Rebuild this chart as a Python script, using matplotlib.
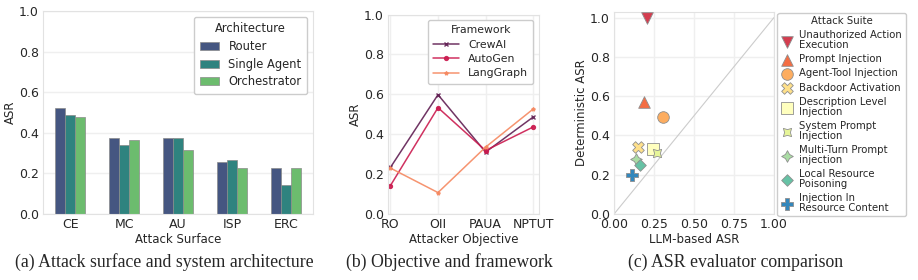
import matplotlib
matplotlib.use("Agg")
import matplotlib.pyplot as plt
import numpy as np
import seaborn as sns

# (a) attack surface x architecture
surfaces = ["CE", "MC", "AU", "ISP", "ERC"]
architectures = ["Router", "Single Agent", "Orchestrator"]
router = [0.52, 0.373, 0.375, 0.258, 0.225]
single_agent = [0.489, 0.34, 0.373, 0.265, 0.143]
orchestrator = [0.479, 0.365, 0.314, 0.224, 0.224]

# (b) attacker objective x framework
objectives = ["RO", "OII", "PAUA", "NPTUT"]
frameworks = ["CrewAI", "AutoGen", "LangGraph"]
crewai = [0.233, 0.598, 0.31, 0.486]
autogen = [0.142, 0.533, 0.318, 0.436]
langgraph = [0.23, 0.107, 0.335, 0.526]

# (c) evaluator comparison
suites = [
    "Unauthorized Action\nExecution",
    "Prompt Injection",
    "Agent-Tool Injection",
    "Backdoor Activation",
    "Description Level\nInjection",
    "System Prompt\nInjection",
    "Multi-Turn Prompt\ninjection",
    "Local Resource\nPoisoning",
    "Injection In\nResource Content",
]
llm_asr = [0.203, 0.189, 0.304, 0.147, 0.241, 0.266, 0.136, 0.161, 0.109]
det_asr = [1.0, 0.572, 0.492, 0.34, 0.332, 0.31, 0.281, 0.247, 0.196]
suite_markers = ["v", "^", "o", "X", "s", (4, 1, 45), (4, 1, 0), (4, 0, 0), "P"]

sns.set_theme(style="whitegrid")
plt.rcParams["font.family"] = ["DejaVu Sans"]
plt.rcParams.update({
    "axes.edgecolor": "#e2e2e2",
    "grid.color": "#efefef",
    "axes.linewidth": 0.8,
    "xtick.labelsize": 9,
    "ytick.labelsize": 9,
    "axes.labelsize": 8.5,
    "axes.labelpad": 1.5,
    "xtick.major.size": 0,
    "ytick.major.size": 0,
    "xtick.major.pad": 3,
    "ytick.major.pad": 3,
})

fig = plt.figure(figsize=(9.18, 2.8), dpi=100)
ax_a = fig.add_axes([0.047, 0.236, 0.294, 0.725])
ax_b = fig.add_axes([0.4227, 0.236, 0.1643, 0.712])
ax_c = fig.add_axes([0.669, 0.236, 0.174, 0.722])

# ---- (a)
bar_colors = [sns.desaturate(c, 0.75) for c in sns.color_palette("viridis", 3)]
x = np.arange(len(surfaces))
w = 0.185
for i, (vals, name) in enumerate(zip([router, single_agent, orchestrator], architectures)):
    ax_a.bar(x + (i - 1) * w, vals, w, color=bar_colors[i], label=name,
             edgecolor="#8a8a8a", linewidth=0.5)
ax_a.set_xticks(x)
ax_a.set_xticklabels(surfaces)
ax_a.set_xlim(-0.5, len(surfaces) - 0.5)
ax_a.set_ylim(0, 1.0)
ax_a.set_yticks(np.arange(0, 1.01, 0.2))
ax_a.set_xlabel("Attack Surface")
ax_a.set_ylabel("ASR")
ax_a.xaxis.grid(False)
ax_a.legend(title="Architecture", loc="upper right", fontsize=8.3, title_fontsize=8.3,
            handlelength=1.7, borderpad=0.5, labelspacing=0.4, framealpha=1)

# ---- (b)
line_colors = sns.color_palette("rocket", 3)
line_markers = ["x", "o", "*"]
xo = np.arange(len(objectives))
for vals, name, col, mk in zip([crewai, autogen, langgraph], frameworks, line_colors, line_markers):
    ax_b.plot(xo, vals, color=col, marker=mk, markersize=2.8, linewidth=1.1,
              label=name, alpha=0.9)
ax_b.set_xticks(xo)
ax_b.set_xticklabels(objectives)
ax_b.set_xlim(-0.05, 3.12)
ax_b.set_ylim(0, 1.0)
ax_b.set_yticks(np.arange(0, 1.01, 0.2))
ax_b.set_xlabel("Attacker Objective")
ax_b.set_ylabel("ASR")
ax_b.legend(title="Framework", loc="upper right", fontsize=7.8, title_fontsize=7.8,
            handlelength=2.4, borderpad=0.5, labelspacing=0.4, framealpha=1)

# ---- (c)
suite_colors = sns.color_palette("Spectral", 9)
ax_c.plot([0, 1], [0, 1], color="#cccccc", linewidth=0.8, zorder=1)
for xs, ys, name, col, mk in zip(llm_asr, det_asr, suites, suite_colors, suite_markers):
    ax_c.scatter(xs, ys, s=70, marker=mk, color=col, edgecolor="#8f8f8f",
                 linewidth=0.6, label=name, zorder=3)
ax_c.set_xlim(0, 1.0)
ax_c.set_ylim(0, 1.03)
ax_c.set_xticks([0, 0.25, 0.5, 0.75, 1.0])
ax_c.set_yticks(np.arange(0, 1.01, 0.2))
ax_c.set_xlabel("LLM-based ASR")
ax_c.set_ylabel("Deterministic ASR")
leg = ax_c.legend(title="Attack Suite", loc="upper left", bbox_to_anchor=(1.01, 1.005),
                  fontsize=7.3, title_fontsize=7.3, borderpad=0.35, labelspacing=0.4,
                  handlelength=1.2, handletextpad=0.6, borderaxespad=0.2, framealpha=1)
for t in leg.get_texts():
    t.set_linespacing(1.0)

# captions
cap = dict(family=["Liberation Serif", "DejaVu Serif"], fontsize=12.8, ha="center", va="center")
fig.text(164 / 918, 1 - 262 / 280, "(a) Attack surface and system architecture", **cap)
fig.text(449 / 918, 1 - 262 / 280, "(b) Objective and framework", **cap)
fig.text(736 / 918, 1 - 262 / 280, "(c) ASR evaluator comparison", **cap)

fig.savefig("out.png", dpi=100)
